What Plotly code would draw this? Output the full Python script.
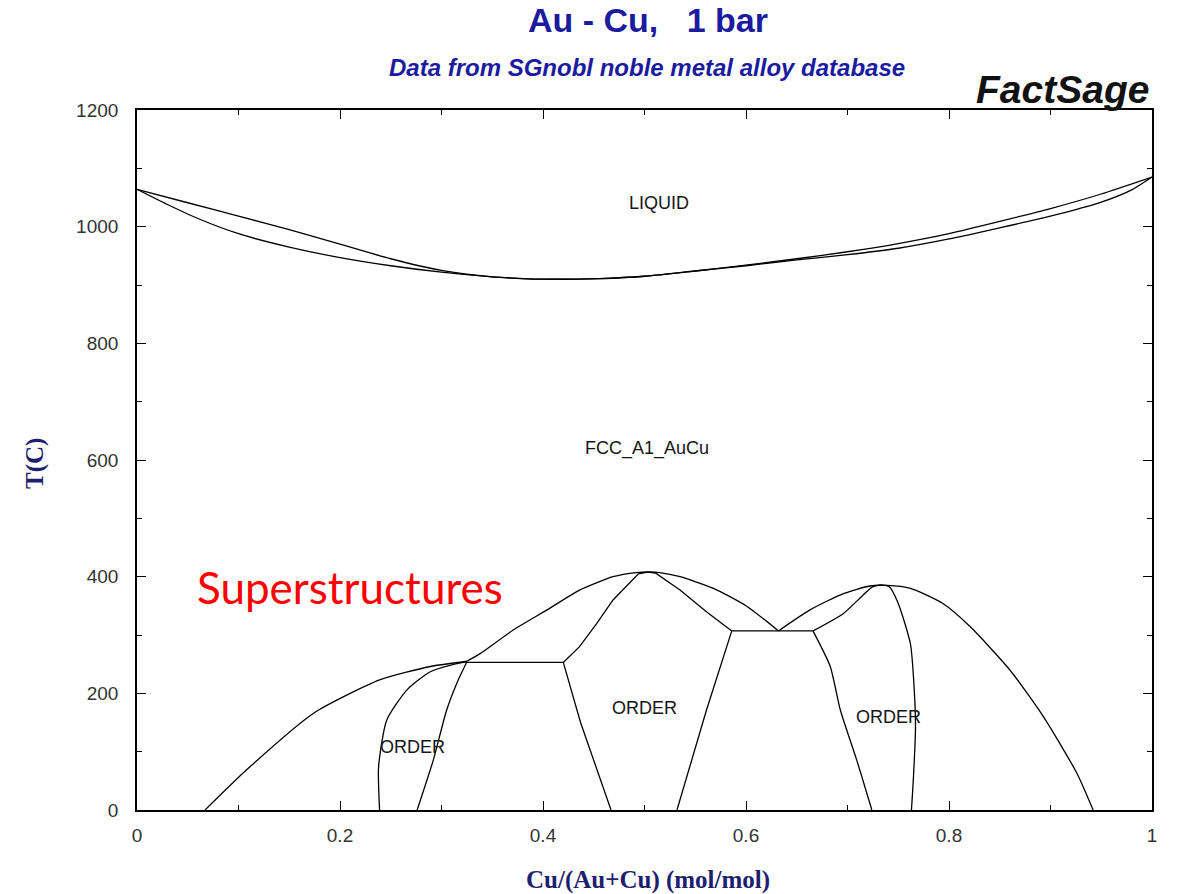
import plotly.graph_objects as go

# ---- Liquidus / solidus (T in deg C vs mole fraction Cu) ----
liquidus_x = [0.0, 0.05, 0.10, 0.15, 0.20, 0.25, 0.30, 0.35, 0.38, 0.40, 0.456,
              0.50, 0.55, 0.60, 0.65, 0.70, 0.75, 0.80, 0.85, 0.90, 0.95, 1.0]
liquidus_t = [1064, 1041, 1018, 995, 970, 945, 925, 914, 911, 910, 911,
              915, 924, 934, 945, 957, 971, 988, 1009, 1031, 1056, 1085]

solidus_x = [0.0, 0.03, 0.06, 0.10, 0.15, 0.20, 0.25, 0.30, 0.35, 0.38, 0.40, 0.456,
             0.50, 0.55, 0.60, 0.65, 0.70, 0.75, 0.80, 0.85, 0.90, 0.95, 0.98, 1.0]
solidus_t = [1064, 1038, 1014, 988, 965, 947, 933, 922, 914, 911, 910, 911,
             915, 924, 933, 943, 952, 963, 979, 998, 1018, 1042, 1063, 1085]

# ---- Order/disorder envelope ----
left_dome_x = [0.067, 0.108, 0.174, 0.239, 0.289, 0.325]
left_dome_t = [0, 69, 166, 223, 246, 255]

mid_dome_x = [0.325, 0.338, 0.371, 0.404, 0.436, 0.469, 0.492, 0.505, 0.515, 0.535, 0.568, 0.601, 0.632]
mid_dome_t = [255, 268, 309, 343, 377, 400, 407, 408, 407, 400, 380, 349, 307]

right_dome_x = [0.632, 0.663, 0.696, 0.722, 0.739, 0.762, 0.794, 0.821, 0.860, 0.893, 0.926, 0.942]
right_dome_t = [307, 343, 371, 384, 385, 380, 354, 314, 240, 160, 63, 0]

# ---- Au3Cu-type ordered field ----
ord1_left_x = [0.239, 0.238, 0.246, 0.266, 0.289, 0.315, 0.325]
ord1_left_t = [0, 74, 154, 206, 237, 251, 254]
ord1_right_x = [0.276, 0.292, 0.305, 0.315, 0.325]
ord1_right_t = [0, 86, 171, 217, 254]

# ---- AuCu-type ordered field ----
ord2_upleft_x = [0.420, 0.436, 0.453, 0.469, 0.494, 0.503]
ord2_upleft_t = [253, 280, 320, 360, 405, 408]
ord2_upright_x = [0.503, 0.511, 0.535, 0.561, 0.586]
ord2_upright_t = [408, 406, 377, 340, 307]
ord2_lowleft_x = [0.420, 0.437, 0.467]
ord2_lowleft_t = [253, 150, 0]
ord2_lowright_x = [0.586, 0.561, 0.532]
ord2_lowright_t = [307, 171, 0]

# ---- AuCu3-type ordered field ----
ord3_upleft_x = [0.666, 0.696, 0.725, 0.734]
ord3_upleft_t = [307, 337, 383, 386]
ord3_right_x = [0.734, 0.741, 0.750, 0.762, 0.765, 0.767, 0.765, 0.763]
ord3_right_t = [386, 383, 354, 285, 228, 143, 57, 0]
ord3_lowleft_x = [0.666, 0.683, 0.693, 0.709, 0.724]
ord3_lowleft_t = [307, 246, 171, 86, 0]

# ---- Invariant (horizontal) lines ----
inv1_x = [0.325, 0.420]
inv1_t = [253, 253]
inv2_x = [0.586, 0.666]
inv2_t = [307, 307]

# ---- Field labels ----
label_text = ["LIQUID", "FCC_A1_AuCu", "ORDER", "ORDER", "ORDER"]
label_x = [0.514, 0.502, 0.271, 0.500, 0.740]
label_t = [1040, 620, 108, 175, 159]

x_ticks = [0, 0.2, 0.4, 0.6, 0.8, 1]
x_tick_text = ["0", "0.2", "0.4", "0.6", "0.8", "1"]
y_ticks = [0, 200, 400, 600, 800, 1000, 1200]
y_tick_text = ["0", "200", "400", "600", "800", "1000", "1200"]

curves = [
    (liquidus_x, liquidus_t, "spline"),
    (solidus_x, solidus_t, "spline"),
    (left_dome_x, left_dome_t, "spline"),
    (mid_dome_x, mid_dome_t, "spline"),
    (right_dome_x, right_dome_t, "spline"),
    (ord1_left_x, ord1_left_t, "spline"),
    (ord1_right_x, ord1_right_t, "spline"),
    (ord2_upleft_x, ord2_upleft_t, "linear"),
    (ord2_upright_x, ord2_upright_t, "linear"),
    (ord2_lowleft_x, ord2_lowleft_t, "linear"),
    (ord2_lowright_x, ord2_lowright_t, "linear"),
    (ord3_upleft_x, ord3_upleft_t, "spline"),
    (ord3_right_x, ord3_right_t, "spline"),
    (ord3_lowleft_x, ord3_lowleft_t, "spline"),
    (inv1_x, inv1_t, "linear"),
    (inv2_x, inv2_t, "linear"),
]

fig = go.Figure()
for xs, ts, shape in curves:
    fig.add_trace(go.Scatter(
        x=xs, y=ts, mode="lines",
        line=dict(color="black", width=1.3, shape=shape,
                  smoothing=0.6 if shape == "spline" else None),
        showlegend=False, hoverinfo="skip",
    ))

for txt, lx, lt in zip(label_text, label_x, label_t):
    fig.add_annotation(x=lx, y=lt, xref="x", yref="y", text=txt, showarrow=False,
                       font=dict(family="Liberation Sans, Arial", size=18, color="#151515"))

fig.add_annotation(x=0.057, y=382, xref="x", yref="y", text="Superstructures",
                   showarrow=False, xanchor="left", yanchor="middle",
                   font=dict(family="Lato, Open Sans", size=44, color="#ff0000"))

navy = "#1b1ba0"
fig.add_annotation(x=0.503, y=1.129, xref="paper", yref="paper", showarrow=False,
                   text="<b>Au - Cu,   1 bar</b>", yanchor="middle",
                   font=dict(family="Liberation Sans, Arial", size=34, color=navy))
fig.add_annotation(x=0.502, y=1.06, xref="paper", yref="paper", showarrow=False,
                   text="<b><i>Data from SGnobl noble metal alloy database</i></b>", yanchor="middle",
                   font=dict(family="Liberation Sans, Arial", size=24, color=navy))
fig.add_annotation(x=0.999, y=1.0286, xref="paper", yref="paper", showarrow=False,
                   text="<b><i>FactSage</i></b>", xanchor="right", yanchor="middle",
                   font=dict(family="Liberation Sans, Arial", size=39, color="#111111"))
fig.add_annotation(x=0.503, y=-0.1, xref="paper", yref="paper", showarrow=False,
                   text="<b>Cu/(Au+Cu) (mol/mol)</b>", yanchor="middle",
                   font=dict(family="Liberation Serif, Times New Roman", size=25, color="#1e1e6e"))
fig.add_annotation(x=-0.1005, y=0.4957, xref="paper", yref="paper", showarrow=False,
                   text="<b>T(C)</b>", textangle=-90, xanchor="center", yanchor="middle",
                   font=dict(family="Liberation Serif, Times New Roman", size=25, color="#1e1e6e"))

axis_common = dict(
    showline=True, linecolor="black", linewidth=1.6, mirror="ticks",
    ticks="inside", ticklen=9, tickwidth=1.3, tickcolor="black",
    showgrid=False, zeroline=False,
    tickfont=dict(family="Liberation Sans, Arial", size=19, color="#333333"),
)

fig.update_xaxes(range=[0, 1], tickvals=x_ticks, ticktext=x_tick_text,
                 minor=dict(ticks="inside", dtick=0.1, ticklen=5, tickcolor="black", tickwidth=1.2),
                 ticklabelstandoff=7, **axis_common)
fig.update_yaxes(range=[0, 1200], tickvals=y_ticks, ticktext=y_tick_text,
                 minor=dict(ticks="inside", dtick=100, ticklen=5, tickcolor="black", tickwidth=1.2),
                 ticklabelstandoff=13, **axis_common)

fig.update_layout(
    width=1177, height=894,
    margin=dict(l=137, r=25, t=110, b=84),
    paper_bgcolor="white", plot_bgcolor="white",
)

fig.write_html("out.html")
